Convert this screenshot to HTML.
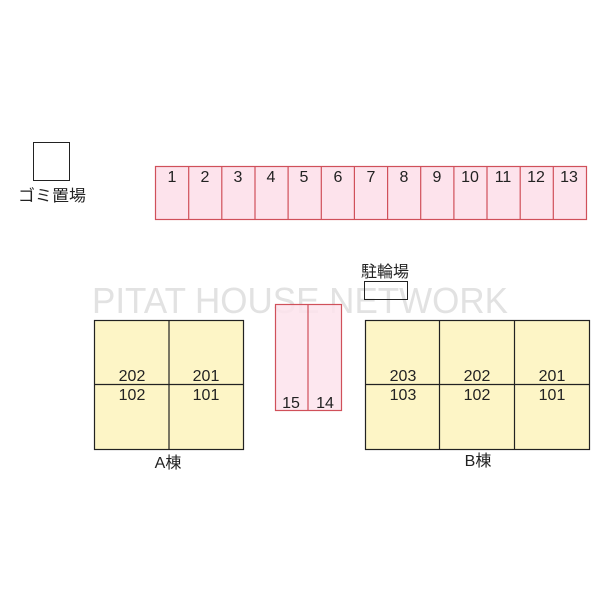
<!DOCTYPE html>
<html><head><meta charset="utf-8"><style>body{margin:0;background:#fff}svg{display:block}</style></head>
<body>
<svg width="600" height="600" viewBox="0 0 600 600" xmlns="http://www.w3.org/2000/svg" font-family="Liberation Sans, Noto Sans CJK JP, sans-serif">
<rect width="600" height="600" fill="#fff"/>
<rect x="33.5" y="142.5" width="36" height="38" fill="#fff" stroke="#222" stroke-width="1"/>
<text x="52" y="201" font-size="16" text-anchor="middle" fill="#222" textLength="68" lengthAdjust="spacingAndGlyphs">ゴミ置場</text>
<g fill="#fde3ec" stroke="#d0505a" stroke-width="1.2">
<rect x="155.5" y="166.5" width="431" height="53"/>
</g>
<g stroke="#d0505a" stroke-width="1.2">
<line x1="188.7" y1="166" x2="188.7" y2="220"/><line x1="221.8" y1="166" x2="221.8" y2="220"/><line x1="255" y1="166" x2="255" y2="220"/><line x1="288.1" y1="166" x2="288.1" y2="220"/><line x1="321.3" y1="166" x2="321.3" y2="220"/><line x1="354.4" y1="166" x2="354.4" y2="220"/><line x1="387.6" y1="166" x2="387.6" y2="220"/><line x1="420.7" y1="166" x2="420.7" y2="220"/><line x1="453.9" y1="166" x2="453.9" y2="220"/><line x1="487" y1="166" x2="487" y2="220"/><line x1="520.2" y1="166" x2="520.2" y2="220"/><line x1="553.3" y1="166" x2="553.3" y2="220"/>
</g>
<g font-size="16" fill="#222" text-anchor="middle">
<text x="172" y="182">1</text><text x="205" y="182">2</text><text x="238" y="182">3</text><text x="271" y="182">4</text><text x="304" y="182">5</text><text x="338" y="182">6</text><text x="371" y="182">7</text><text x="404" y="182">8</text><text x="437" y="182">9</text><text x="470" y="182">10</text><text x="503" y="182">11</text><text x="536" y="182">12</text><text x="569" y="182">13</text>
</g>
<text x="92" y="313" font-size="36" fill="#e2e2e2" textLength="416" lengthAdjust="spacingAndGlyphs">PITAT HOUSE NETWORK</text>
<text x="385" y="277" font-size="16" text-anchor="middle" fill="#222">駐輪場</text>
<rect x="364.5" y="281.5" width="43" height="18" fill="none" stroke="#222" stroke-width="1"/>
<rect x="275.5" y="304.5" width="66" height="106" fill="#fde3ec" fill-opacity="0.85" stroke="#d0505a" stroke-width="1.2"/>
<line x1="308" y1="304" x2="308" y2="411" stroke="#d0505a" stroke-width="1.2"/>
<text x="291" y="408" font-size="16" text-anchor="middle" fill="#222">15</text>
<text x="325" y="408" font-size="16" text-anchor="middle" fill="#222">14</text>
<g fill="#fdf5c6" stroke="#222" stroke-width="1.2">
<rect x="94.5" y="320.5" width="149" height="129"/>
<rect x="365.5" y="320.5" width="224" height="129"/>
</g>
<g stroke="#222" stroke-width="1.2">
<line x1="169" y1="320" x2="169" y2="450"/><line x1="94" y1="384.5" x2="244" y2="384.5"/>
<line x1="439.5" y1="320" x2="439.5" y2="450"/><line x1="514.5" y1="320" x2="514.5" y2="450"/><line x1="365" y1="384.5" x2="590" y2="384.5"/>
</g>
<g font-size="16" fill="#222" text-anchor="middle">
<text x="132" y="381">202</text><text x="206" y="381">201</text>
<text x="132" y="400">102</text><text x="206" y="400">101</text>
<text x="403" y="381">203</text><text x="477" y="381">202</text><text x="552" y="381">201</text>
<text x="403" y="400">103</text><text x="477" y="400">102</text><text x="552" y="400">101</text>
<text x="168" y="468">A棟</text>
<text x="478" y="466">B棟</text>
</g>
</svg>
</body></html>
